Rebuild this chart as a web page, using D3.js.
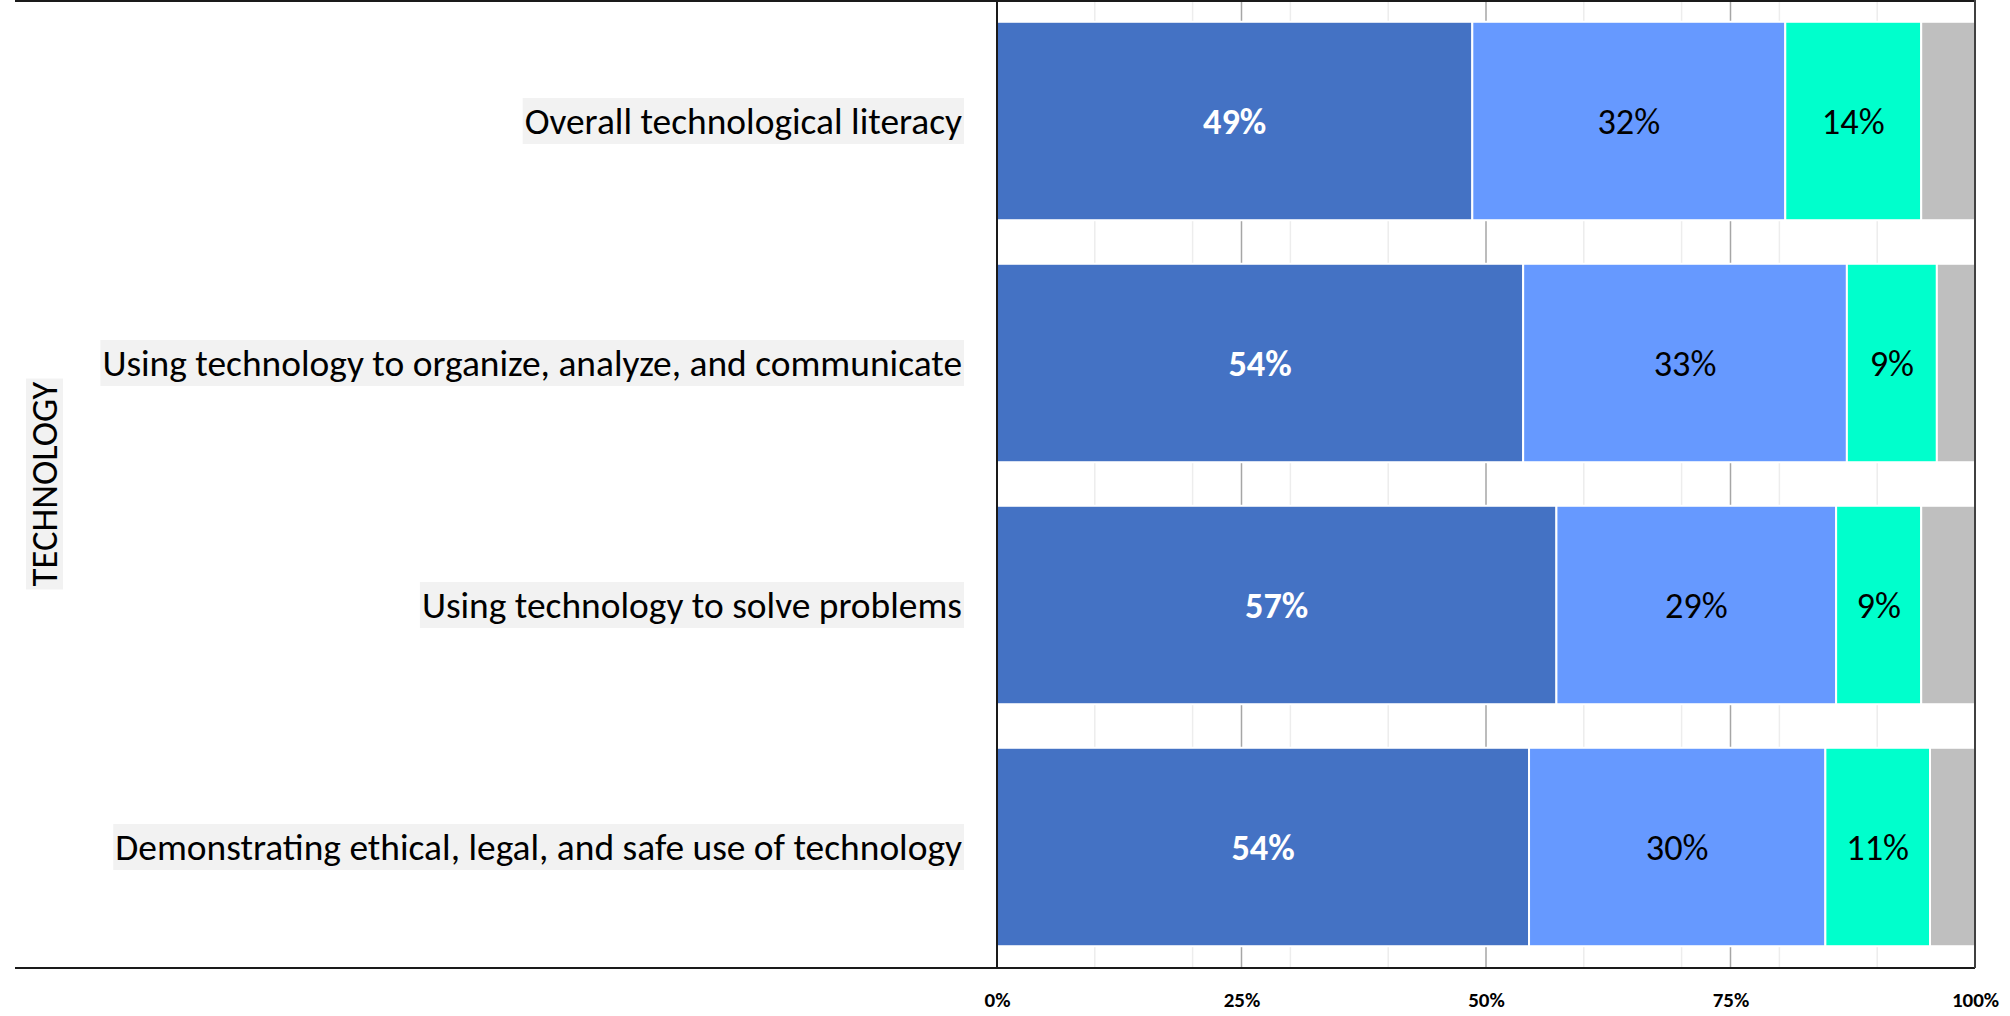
<!DOCTYPE html>
<html>
<head>
<meta charset="utf-8">
<script src="https://cdn.jsdelivr.net/npm/d3@7"></script>
<style>
  body { margin: 0; background: #ffffff; }
  svg { display: block; }
</style>
</head>
<body>
<div id="chart"></div>
<script>
// ---- data ----
const categories = [
    "Overall technological literacy",
    "Using technology to organize, analyze, and communicate",
    "Using technology to solve problems",
    "Demonstrating ethical, legal, and safe use of technology"
];
const seriesKeys = ["level1", "level2", "level3", "level4"];
const level1 = [48.6, 53.8, 57.2, 54.4];
const level2 = [32.0, 33.1, 28.6, 30.3];
const level3 = [13.9, 9.2, 8.7, 10.7];
const level4 = [5.5, 3.9, 5.5, 4.6];
const tickValues = [0, 25, 50, 75, 100];
const tickLabels = ["0%", "25%", "50%", "75%", "100%"];
const minorTicks = [10, 20, 30, 40, 60, 70, 80, 90];
const groupTitle = "TECHNOLOGY";

const seriesColors = {
    level1: "#4472C4",
    level2: "#6699FF",
    level3: "#00FFCC",
    level4: "#BFBFBF"
};
const labelColors = { level1: "#ffffff", level2: "#000000", level3: "#000000" };

const rows = categories.map((c, i) => ({
    category: c,
    level1: level1[i],
    level2: level2[i],
    level3: level3[i],
    level4: level4[i]
}));

// ---- layout ----
const width = 2010, height = 1016;
const fontFamily = "Carlito, Calibri, Lato, 'Open Sans', sans-serif";
const plot = { left: 997, right: 1975, top: 0, bottom: 968 };
const frameLeft = 15;

const svg = d3.select("#chart").append("svg")
    .attr("width", width)
    .attr("height", height)
    .attr("viewBox", `0 0 ${width} ${height}`);

const x = d3.scaleLinear().domain([0, 100]).range([plot.left, plot.right]);
const y = d3.scaleBand()
    .domain(categories)
    .range([plot.top, plot.bottom])
    .paddingInner(0.18)
    .paddingOuter(0.09);

// gridlines (behind bars)
svg.append("g").selectAll("line")
    .data(minorTicks)
    .join("line")
    .attr("x1", d => x(d)).attr("x2", d => x(d))
    .attr("y1", plot.top).attr("y2", plot.bottom)
    .attr("stroke", "#EDEDED").attr("stroke-width", 1.5);

svg.append("g").selectAll("line")
    .data([25, 50, 75])
    .join("line")
    .attr("x1", d => x(d)).attr("x2", d => x(d))
    .attr("y1", plot.top).attr("y2", plot.bottom)
    .attr("stroke", "#A6A6A6").attr("stroke-width", 1.5);

// stacked bars
const stacked = d3.stack().keys(seriesKeys)(rows);

const layers = svg.append("g").selectAll("g")
    .data(stacked)
    .join("g")
    .attr("fill", d => seriesColors[d.key]);

layers.selectAll("rect")
    .data(d => d)
    .join("rect")
    .attr("x", d => x(d[0]))
    .attr("y", d => y(d.data.category))
    .attr("width", d => x(d[1]) - x(d[0]))
    .attr("height", y.bandwidth())
    .attr("stroke", "#ffffff")
    .attr("stroke-width", 2);

// measure a text width to size the fonts
function measure(text, size, weight) {
    const t = svg.append("text")
        .style("font-family", fontFamily)
        .style("font-size", size + "px")
        .style("font-weight", weight)
        .text(text);
    const w = t.node().getComputedTextLength();
    t.remove();
    return w;
}
let catSize = 30 * 847 / measure(categories[3], 30, "normal");
catSize = Math.max(24, Math.min(40, catSize));

// value labels
stacked.filter(s => s.key !== "level4").forEach(s => {
    svg.append("g").selectAll("text")
        .data(s)
        .join("text")
        .attr("x", d => (x(d[0]) + x(d[1])) / 2)
        .attr("y", d => y(d.data.category) + y.bandwidth() / 2)
        .attr("text-anchor", "middle")
        .attr("dominant-baseline", "central")
        .style("font-family", fontFamily)
        .style("font-size", (catSize * 0.97) + "px")
        .style("font-weight", s.key === "level1" ? "bold" : "normal")
        .style("fill", labelColors[s.key])
        .text(d => Math.round(d[1] - d[0]) + "%");
});

// category labels with grey background
const catGroup = svg.append("g");
categories.forEach(c => {
    const cy = y(c) + y.bandwidth() / 2;
    const g = catGroup.append("g");
    const bg = g.append("rect").attr("fill", "#F2F2F2");
    const t = g.append("text")
        .attr("x", 962)
        .attr("y", cy)
        .attr("text-anchor", "end")
        .attr("dominant-baseline", "central")
        .style("font-family", fontFamily)
        .style("font-size", catSize + "px")
        .style("fill", "#000000")
        .text(c);
    const w = t.node().getComputedTextLength();
    bg.attr("x", 962 - w - 2).attr("y", cy - 23).attr("width", w + 4).attr("height", 46);
});

// rotated group title
const titleSize = Math.max(22, Math.min(40, 30 * 205 / measure(groupTitle, 30, "normal")));
const titleY = (plot.top + plot.bottom) / 2;
const tg = svg.append("g").attr("transform", `translate(44, ${titleY}) rotate(-90)`);
const tbg = tg.append("rect").attr("fill", "#F2F2F2");
const tt = tg.append("text")
    .attr("text-anchor", "middle")
    .attr("dominant-baseline", "central")
    .style("font-family", fontFamily)
    .style("font-size", titleSize + "px")
    .style("fill", "#000000")
    .text(groupTitle);
const tw = tt.node().getComputedTextLength();
tbg.attr("x", -tw / 2 - 3).attr("y", -18).attr("width", tw + 6).attr("height", 37);

// frame lines
const frame = svg.append("g").attr("stroke", "#1a1a1a").attr("stroke-width", 2);
frame.append("line").attr("x1", frameLeft).attr("x2", plot.right).attr("y1", 1).attr("y2", 1);
frame.append("line").attr("x1", frameLeft).attr("x2", plot.right).attr("y1", plot.bottom).attr("y2", plot.bottom);
frame.append("line").attr("x1", plot.left).attr("x2", plot.left).attr("y1", 0).attr("y2", plot.bottom);
frame.append("line").attr("x1", plot.right).attr("x2", plot.right).attr("y1", 0).attr("y2", plot.bottom)
    .attr("stroke", "#404040");

// x axis tick labels
const xAxis = d3.axisBottom(x)
    .tickValues(tickValues)
    .tickFormat((d, i) => tickLabels[i])
    .tickSize(0)
    .tickPadding(24);

svg.append("g")
    .attr("transform", `translate(0, ${plot.bottom})`)
    .call(xAxis)
    .call(g => g.select(".domain").remove())
    .selectAll("text")
    .style("font-family", fontFamily)
    .style("font-size", "21px")
    .style("font-weight", "bold")
    .style("fill", "#000000");
</script>
</body>
</html>
